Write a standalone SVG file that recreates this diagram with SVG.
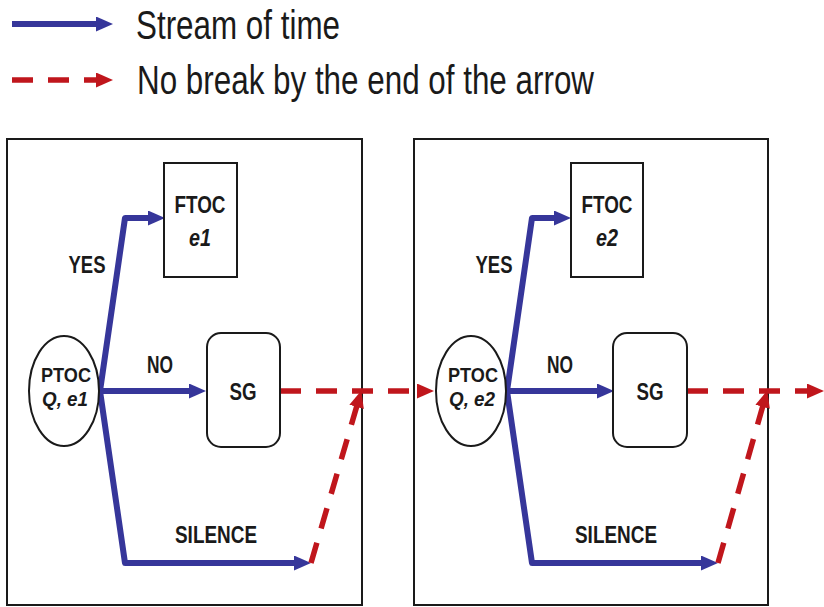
<svg xmlns="http://www.w3.org/2000/svg" width="824" height="607" viewBox="0 0 824 607">
<defs>
<marker id="ab" markerUnits="userSpaceOnUse" markerWidth="17" markerHeight="15" refX="5" refY="7.5" orient="auto">
<path d="M0,0 L17,7.5 L0,15 z" fill="#36369a"/>
</marker>
<marker id="ar" markerUnits="userSpaceOnUse" markerWidth="17" markerHeight="15" refX="5" refY="7.5" orient="auto">
<path d="M0,0 L17,7.5 L0,15 z" fill="#c0161c"/>
</marker>
<style>
.frame{fill:none;stroke:#1a1a1a;stroke-width:2}
.box{fill:#fff;stroke:#1a1a1a;stroke-width:2}
.blue{fill:none;stroke:#36369a;stroke-width:6;stroke-linejoin:round;marker-end:url(#ab)}
.red{fill:none;stroke:#c0161c;stroke-width:5.5;stroke-dasharray:21 15;marker-end:url(#ar)}
.lg{font-family:"Liberation Sans",Arial,sans-serif;font-size:40px;fill:#1a1a1a}
.lb{font-family:"Liberation Sans",Arial,sans-serif;font-size:23px;font-weight:bold;fill:#1a1a1a;text-anchor:middle}
.sm{font-size:20px}
.it{font-style:italic}
</style>
</defs>
<rect width="824" height="607" fill="#fff"/>

<g id="legend">
<line x1="12" y1="24" x2="101" y2="24" class="blue"/>
<text x="136" y="39" class="lg" textLength="204" lengthAdjust="spacingAndGlyphs">Stream of time</text>
<line x1="12" y1="80" x2="101" y2="80" class="red"/>
<text x="137" y="94" class="lg" textLength="457" lengthAdjust="spacingAndGlyphs">No break by the end of the arrow</text>
</g>

<g id="panel1">
<rect x="7" y="139" width="355" height="466" class="frame"/>
</g>
<g id="panel2">
<rect x="414" y="139" width="354" height="466" class="frame"/>
</g>

<g id="connectors">
<path d="M100,391 L125,218 L153,218" class="blue"/>
<path d="M100,391 L194,391" class="blue"/>
<path d="M100,391 L125,563 L299,563" class="blue"/>
<path d="M280,391 L422,391" class="red"/>
<path d="M311,563 L358,402" class="red"/>

<path d="M507,391 L532,218 L559,218" class="blue"/>
<path d="M507,391 L602,391" class="blue"/>
<path d="M507,391 L532,563 L706,563" class="blue"/>
<path d="M687,391 L812,391" class="red"/>
<path d="M718,563 L764,402" class="red"/>
</g>

<g id="ptoc1">
<ellipse cx="64" cy="391" rx="35" ry="55" class="box"/>
<text x="66" y="382" class="lb sm" textLength="50" lengthAdjust="spacingAndGlyphs">PTOC</text>
<text x="65" y="406" class="lb sm it" textLength="46" lengthAdjust="spacingAndGlyphs">Q, e1</text>
</g>
<g id="ftoc1">
<rect x="164" y="163" width="73" height="114" class="box"/>
<text x="200" y="213" class="lb" textLength="51" lengthAdjust="spacingAndGlyphs">FTOC</text>
<text x="200" y="246" class="lb it" textLength="22" lengthAdjust="spacingAndGlyphs">e1</text>
</g>
<g id="sg1">
<rect x="207" y="333" width="73" height="114" rx="14" class="box"/>
<text x="243" y="400" class="lb" textLength="27" lengthAdjust="spacingAndGlyphs">SG</text>
</g>
<g id="labels1">
<text x="87" y="273" class="lb" textLength="37" lengthAdjust="spacingAndGlyphs">YES</text>
<text x="160" y="373" class="lb" textLength="26" lengthAdjust="spacingAndGlyphs">NO</text>
<text x="216" y="543" class="lb" textLength="82" lengthAdjust="spacingAndGlyphs">SILENCE</text>
</g>

<g id="ptoc2">
<ellipse cx="471" cy="391" rx="35" ry="55" class="box"/>
<text x="473" y="382" class="lb sm" textLength="50" lengthAdjust="spacingAndGlyphs">PTOC</text>
<text x="472" y="406" class="lb sm it" textLength="46" lengthAdjust="spacingAndGlyphs">Q, e2</text>
</g>
<g id="ftoc2">
<rect x="571" y="163" width="72" height="114" class="box"/>
<text x="607" y="213" class="lb" textLength="51" lengthAdjust="spacingAndGlyphs">FTOC</text>
<text x="607" y="246" class="lb it" textLength="22" lengthAdjust="spacingAndGlyphs">e2</text>
</g>
<g id="sg2">
<rect x="613" y="333" width="74" height="114" rx="14" class="box"/>
<text x="650" y="400" class="lb" textLength="27" lengthAdjust="spacingAndGlyphs">SG</text>
</g>
<g id="labels2">
<text x="494" y="273" class="lb" textLength="37" lengthAdjust="spacingAndGlyphs">YES</text>
<text x="560" y="373" class="lb" textLength="26" lengthAdjust="spacingAndGlyphs">NO</text>
<text x="616" y="543" class="lb" textLength="82" lengthAdjust="spacingAndGlyphs">SILENCE</text>
</g>
</svg>
